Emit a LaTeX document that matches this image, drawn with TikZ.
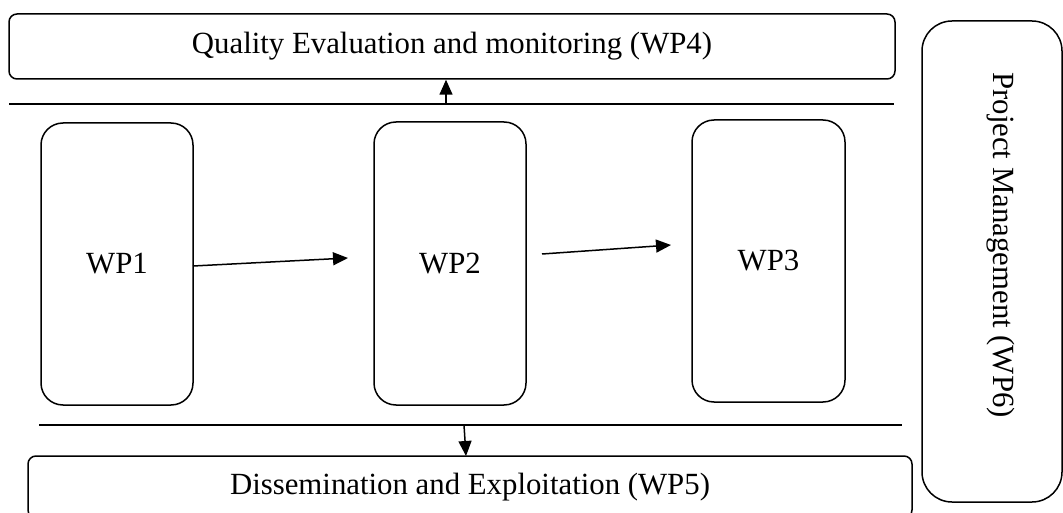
\documentclass[tikz,border=0pt]{standalone}
\usepackage{fontspec}
\setmainfont{Liberation Serif}
\usetikzlibrary{arrows.meta}
\begin{document}
\begin{tikzpicture}[x=1pt,y=-1pt,line width=1.5pt,
  txt/.style={font=\fontsize{30.8}{36}\selectfont},
  wide/.style={draw,rounded corners=8pt,inner sep=0pt,txt},
  wpbox/.style={draw,rounded corners=22pt,inner sep=0pt,txt},
  arr/.style={-{Triangle[length=15pt,width=13pt]}}]
\useasboundingbox (0,0) rectangle (1063,513);
% top and bottom wide boxes
\node[wide,minimum width=886pt,minimum height=65pt] (wp4) at (452,46.5) {Quality Evaluation and monitoring (WP4)};
\node[wide,minimum width=884pt,minimum height=62pt] (wp5) at (470,487) {Dissemination and Exploitation (WP5)};
% work package boxes
\node[wpbox,minimum width=152pt,minimum height=282pt] (wp1) at (117,264) {WP1};
\node[wpbox,minimum width=152pt,minimum height=283pt] (wp2) at (450,263.5) {WP2};
\node[wpbox,minimum width=153pt,minimum height=282pt] (wp3) at (768.5,261) {WP3};
% project management
\node[draw,rounded corners=30pt,minimum width=140pt,minimum height=481pt,inner sep=0pt] (pm) at (992,261.5) {};
\node[txt,rotate=-90] (pmtext) at (1001,245) {Project Management (WP6)};
% horizontal lines
\coordinate (tl1) at (9,104);
\coordinate (tl2) at (894,104);
\coordinate (bl1) at (39,425);
\coordinate (bl2) at (902,425);
\draw (tl1) -- (tl2);
\draw (bl1) -- (bl2);
% arrows
\coordinate (up0) at (446,104);
\draw[arr] (up0) -- (up0 |- wp4.south);
\coordinate (dn0) at (464,425);
\coordinate (dn1) at (466,456);
\draw[arr] (dn0) -- (dn1);
\coordinate (a1s) at (193,266);
\coordinate (a1e) at (348,258);
\draw[arr] (a1s) -- (a1e);
\coordinate (a2s) at (542,254);
\coordinate (a2e) at (671,245);
\draw[arr] (a2s) -- (a2e);
\end{tikzpicture}
\end{document}
